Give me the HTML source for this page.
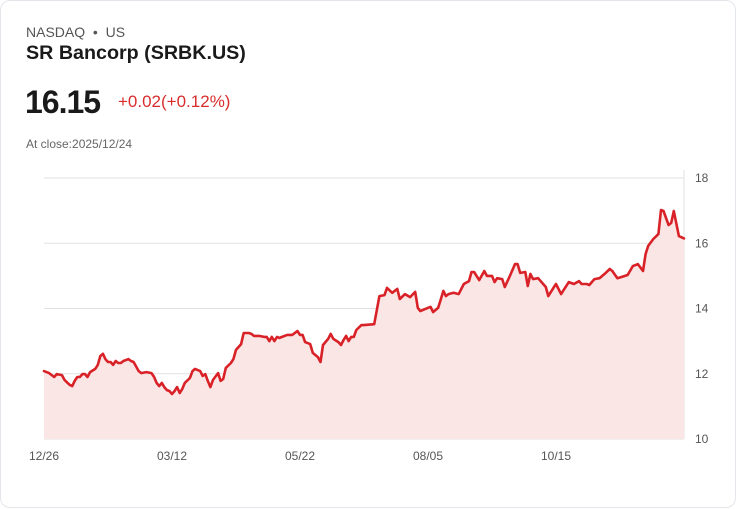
<!DOCTYPE html>
<html><head><meta charset="utf-8"><style>
*{margin:0;padding:0;box-sizing:border-box}
body{width:736px;height:508px;background:#fff;font-family:"Liberation Sans",sans-serif;overflow:hidden}
.card{position:absolute;left:0;top:0;width:736px;height:508px;border:1px solid #e3e6ea;border-radius:10px;background:#fff}
.t{position:absolute;white-space:nowrap}
</style></head><body>
<div class="card">
<div class="t" style="left:25px;top:23px;font-size:14px;color:#555">NASDAQ &nbsp;•&nbsp; US</div>
<div class="t" style="left:25px;top:41px;font-size:19.7px;font-weight:bold;color:#1a1a1a">SR Bancorp (SRBK.US)</div>
<div class="t" style="left:24px;top:83px;font-size:32px;font-weight:bold;color:#1a1a1a;letter-spacing:-1px">16.15</div>
<div class="t" style="left:117px;top:91px;font-size:17px;color:#d92d2d">+0.02(+0.12%)</div>
<div class="t" style="left:25px;top:136px;font-size:12px;color:#666">At close:2025/12/24</div>
<svg id="chart" width="736" height="508" style="position:absolute;left:0;top:0"></svg>
</div>
<script>
const days=[0,2,4,5,7,8,10,11,12,13,14,15,16,17,18,20,21,22,23,24,25,26,27,28,29,30,31,33,34,35,37,38,40,42,43,44,45,46,47,48,49,50,51,52,53,54,55,57,58,59,61,62,63,64,65,66,68,69,70,71,73,74,75,77,78,80,81,82,84,86,87,88,89,90,91,92,93,95,97,99,100,101,102,104,105,107,108,109,111,112,113,115,116,117,118,119,120,121,122,124,125,129,131,133,134,136,138,139,141,143,145,146,147,150,151,152,154,156,157,158,160,162,164,166,167,168,170,172,173,175,176,177,179,180,182,184,185,186,188,189,190,191,193,195,196,197,199,200,202,203,205,207,209,210,212,213,215,217,219,221,222,224,227,228,230,232,234,235,236,238,240,241,242,244,245,246,248,250];
const closes=[12.08,12.02,11.90,11.99,11.96,11.81,11.66,11.62,11.78,11.90,11.90,11.99,11.99,11.90,12.05,12.15,12.27,12.54,12.61,12.45,12.36,12.36,12.27,12.39,12.33,12.33,12.39,12.45,12.39,12.36,12.08,12.02,12.05,12.02,11.90,11.72,11.62,11.72,11.59,11.50,11.47,11.38,11.47,11.59,11.41,11.53,11.72,11.87,12.08,12.15,12.08,11.93,11.99,11.78,11.59,11.81,12.02,11.78,11.84,12.18,12.33,12.45,12.73,12.91,13.25,13.25,13.22,13.16,13.16,13.13,13.13,13.00,13.13,13.00,13.13,13.10,13.13,13.19,13.19,13.31,13.19,13.19,12.97,12.91,12.64,12.51,12.36,12.88,13.07,13.22,13.07,12.97,12.88,13.03,13.16,13.00,13.13,13.13,13.34,13.49,13.49,13.52,14.38,14.41,14.63,14.48,14.60,14.29,14.44,14.35,14.51,14.02,13.92,14.02,14.05,13.89,14.02,14.54,14.38,14.44,14.48,14.44,14.75,14.84,15.12,15.12,14.87,15.15,15.00,15.00,14.81,14.93,14.90,14.66,15.00,15.36,15.36,15.09,15.12,14.69,15.06,14.90,14.93,14.75,14.66,14.38,14.63,14.75,14.44,14.57,14.81,14.75,14.84,14.75,14.75,14.72,14.90,14.93,15.06,15.21,15.15,14.93,15.00,15.03,15.30,15.36,15.15,15.67,15.92,16.13,16.28,17.02,16.99,16.56,16.62,16.99,16.22,16.15];
const yTicks=[10,12,14,16,18];
const xTickDays=[0,50,100,150,200];
const xTickLabels=["12/26","03/12","05/22","08/05","10/15"];
const X0=43,X1=683,Y0=438,Y1=177,DMAX=250,VMIN=10,VMAX=18;
const xs=d=>X0+(d/DMAX)*(X1-X0);
const ys=v=>Y0-(v-VMIN)/(VMAX-VMIN)*(Y0-Y1);
const svg=document.getElementById('chart');
const NS='http://www.w3.org/2000/svg';
function mk(tag,attrs){const e=document.createElementNS(NS,tag);for(const k in attrs)e.setAttribute(k,attrs[k]);svg.appendChild(e);return e;}
yTicks.forEach(v=>{
 const l=mk('line',{x1:X0,x2:X1,y1:ys(v),y2:ys(v),stroke:'#e2e2e2','stroke-width':1});
 
 
 const t=mk('text',{x:694,y:ys(v)+4,'font-size':12,fill:'#555','font-family':'Liberation Sans, sans-serif'});
 t.textContent=v;
 
 
});
const ax=mk('line',{x1:X1,x2:X1,y1:Y1-8,y2:Y0,stroke:'#e2e2e2','stroke-width':1});


xTickDays.forEach((d,i)=>{
 const t=mk('text',{x:xs(d),y:459,'font-size':12,fill:'#555','text-anchor':'middle','font-family':'Liberation Sans, sans-serif'});
 t.textContent=xTickLabels[i];
 
 
});
let pts=days.map((d,i)=>xs(d).toFixed(1)+','+ys(closes[i]).toFixed(1));
const area=mk('path',{d:'M'+xs(days[0])+','+Y0+' L'+pts.join(' L')+' L'+xs(days[days.length-1])+','+Y0+' Z',fill:'#fbe6e6'});


const line=mk('path',{d:'M'+pts.join(' L'),fill:'none',stroke:'#d92228','stroke-width':2.6,'stroke-linejoin':'round','stroke-linecap':'round'});


</script>
</body></html>
